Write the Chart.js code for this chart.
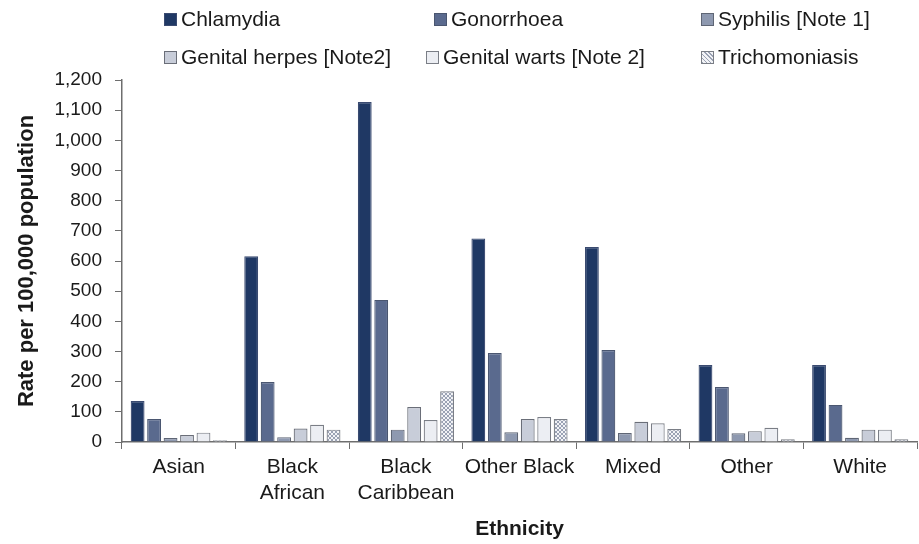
<!DOCTYPE html>
<html>
<head>
<meta charset="utf-8">
<script src="https://cdn.jsdelivr.net/npm/chart.js"></script>
<style>
  body { margin: 0; background: #fff; }
  #wrap { position: relative; width: 919px; height: 544px; }
  #legend { position: absolute; left: 0; top: 0; width: 919px; height: 75px; font-family: "Liberation Sans", Arial, sans-serif; font-size: 21px; color: #1a1a1a; }
  .item { position: absolute; display: flex; align-items: center; white-space: nowrap; }
  .box { width: 11px; height: 11px; border: 1px solid #666; margin-right: 4px; }
</style>
</head>
<body>
<div id="wrap">
  <canvas id="chart" width="919" height="544"></canvas>
  <div id="legend"></div>
</div>
<script>
const categories = ['Asian', ['Black', 'African'], ['Black', 'Caribbean'], 'Other Black', 'Mixed', 'Other', 'White'];
const seriesNames = ['Chlamydia', 'Gonorrhoea', 'Syphilis [Note 1]', 'Genital herpes [Note2]', 'Genital warts [Note 2]', 'Trichomoniasis'];
const chlamydia = [136, 616, 1127, 675, 646, 255, 255];
const gonorrhoea = [76, 199, 471, 295, 305, 182, 123];
const syphilis = [13, 16, 41, 32, 30, 29, 14];
const herpes = [23, 45, 116, 76, 67, 36, 41];
const warts = [31, 57, 73, 83, 62, 47, 41];
const trichomoniasis = [6, 41, 168, 76, 43, 9, 9];

// hatch for trichomoniasis
function hatch() {
  const c = document.createElement('canvas');
  c.width = 4; c.height = 4;
  const g = c.getContext('2d');
  g.fillStyle = '#f2f3f6';
  g.fillRect(0, 0, 4, 4);
  g.strokeStyle = '#9aa2b4';
  g.lineWidth = 1;
  g.beginPath();
  g.moveTo(0, 0); g.lineTo(4, 4);
  g.moveTo(4, 0); g.lineTo(0, 4);
  g.stroke();
  return g.createPattern(c, 'repeat');
}
const trichFill = hatch();

const fills = ['#1f3864', '#5a6a8e', '#8e99b0', '#c8cdd9', '#eceef3', trichFill];
const borders = ['#3a4a70', '#4a5670', '#5f6675', '#6a6e78', '#7a7e86', '#7a7e86'];
const values = [chlamydia, gonorrhoea, syphilis, herpes, warts, trichomoniasis];
const txt = '#1a1a1a';

const ctx = document.getElementById('chart').getContext('2d');
new Chart(ctx, {
  type: 'bar',
  data: {
    labels: categories,
    datasets: seriesNames.map((name, i) => ({
      label: name,
      data: values[i],
      backgroundColor: fills[i],
      borderColor: borders[i],
      borderWidth: 1.2,
      categoryPercentage: 0.87,
      barPercentage: 0.84,
    })),
  },
  options: {
    responsive: false,
    animation: false,
    layout: { padding: { top: 80, right: 2, left: 14, bottom: 0 } },
    plugins: { legend: { display: false }, tooltip: { enabled: false } },
    scales: {
      x: {
        grid: { drawOnChartArea: false, tickLength: 7, color: '#6e6e6e' },
        border: { color: '#6e6e6e', width: 1.5 },
        ticks: { color: txt, font: { family: 'Liberation Sans', size: 21 }, maxRotation: 0, padding: 6, },
        title: { display: true, text: 'Ethnicity', color: txt, font: { family: 'Liberation Sans', size: 21, weight: 'bold' }, padding: { top: 12, bottom: 2 } },
        afterFit: s => { s.height = 102; },
      },
      y: {
        min: 0, max: 1200,
        grid: { drawOnChartArea: false, tickLength: 7, color: '#6e6e6e' },
        border: { color: '#6e6e6e', width: 1.5 },
        ticks: { stepSize: 100, color: txt, font: { family: 'Liberation Sans', size: 19 }, padding: 13 },
        title: { display: true, text: 'Rate per 100,000 population', color: txt, font: { family: 'Liberation Sans', size: 22, weight: 'bold' }, padding: { top: 0, bottom: 4 } },
        afterFit: s => { s.width = 108; },
      },
    },
  },
});

// html legend, 3 columns x 2 rows
const legendPos = [[164, 19], [434, 19], [701, 19], [164, 57], [426, 57], [701, 57]];
const legend = document.getElementById('legend');
seriesNames.forEach((name, i) => {
  const item = document.createElement('div');
  item.className = 'item';
  item.style.left = legendPos[i][0] + 'px';
  item.style.top = (legendPos[i][1] - 12) + 'px';
  const box = document.createElement('span');
  box.className = 'box';
  box.style.background = i === 5 ? 'repeating-linear-gradient(45deg,#9aa2b4 0 1px,#f2f3f6 1px 3px)' : fills[i];
  box.style.borderColor = borders[i];
  item.appendChild(box);
  item.appendChild(document.createTextNode(name));
  legend.appendChild(item);
});
</script>
</body>
</html>
